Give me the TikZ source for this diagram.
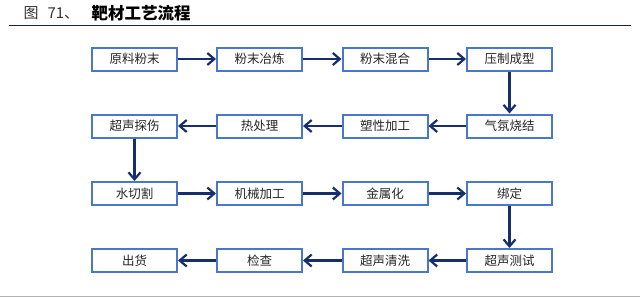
\documentclass[tikz,border=0pt]{standalone}
\usepackage{fontspec}
\setmainfont{Noto Sans CJK SC}
\usetikzlibrary{arrows.meta}
\definecolor{boxblue}{HTML}{4A78C8}
\definecolor{navy}{HTML}{172E6E}
\tikzset{
  stepbox/.style={draw=boxblue, line width=2pt, fill=white, minimum width=85pt, minimum height=23pt, inner sep=0pt, font=\fontsize{12.5}{13}\selectfont, text=black!85},
  flow/.style={draw=navy, line width=2.2pt, -{Straight Barb[length=7pt,width=12pt,line width=2.2pt]}}
}
\begin{document}
\begin{tikzpicture}[x=1pt,y=-1pt]
\useasboundingbox (0,0) rectangle (640,297);
\node[anchor=west, font=\fontsize{15}{16}\selectfont, text=black!80] (fig) at (20,13) {图\hspace{9pt}71、};
\node[anchor=west, font=\fontsize{16.5}{17}\selectfont\bfseries, text=black] (title) at (88,13) {靶材工艺流程};
\draw[navy!80!black, line width=1pt] (9,25) -- (631,25);
\draw[black!30, line width=1pt] (0,296) -- (640,296);
% row 1
\node[stepbox] (a1) at (134.5,59) {原料粉末};
\node[stepbox] (a2) at (259.5,59) {粉末冶炼};
\node[stepbox] (a3) at (385,59) {粉末混合};
\node[stepbox] (a4) at (509.5,59) {压制成型};
% row 2
\node[stepbox] (b1) at (134.5,126) {超声探伤};
\node[stepbox] (b2) at (259.5,126) {热处理};
\node[stepbox] (b3) at (385,126) {塑性加工};
\node[stepbox] (b4) at (509.5,126) {气氛烧结};
% row 3
\node[stepbox] (c1) at (134.5,193.5) {水切割};
\node[stepbox] (c2) at (259.5,193.5) {机械加工};
\node[stepbox] (c3) at (385,193.5) {金属化};
\node[stepbox] (c4) at (509.5,193.5) {绑定};
% row 4
\node[stepbox] (d1) at (134.5,260.5) {出货};
\node[stepbox] (d2) at (259.5,260.5) {检查};
\node[stepbox] (d3) at (385,260.5) {超声清洗};
\node[stepbox] (d4) at (509.5,260.5) {超声测试};
% arrows
\draw[flow] (a1) -- (a2);
\draw[flow] (a2) -- (a3);
\draw[flow] (a3) -- (a4);
\draw[flow] (a4) -- (b4);
\draw[flow] (b4) -- (b3);
\draw[flow] (b3) -- (b2);
\draw[flow] (b2) -- (b1);
\draw[flow] (b1) -- (c1);
\draw[flow] (c1) -- (c2);
\draw[flow] (c2) -- (c3);
\draw[flow] (c3) -- (c4);
\draw[flow] (c4) -- (d4);
\draw[flow] (d4) -- (d3);
\draw[flow] (d3) -- (d2);
\draw[flow] (d2) -- (d1);
\end{tikzpicture}
\end{document}
